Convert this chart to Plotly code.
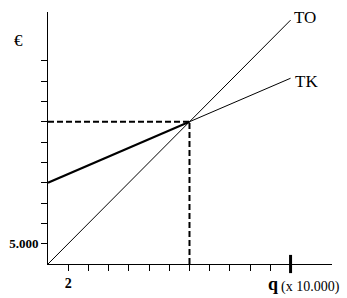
import plotly.graph_objects as go

# Data (q in units of 10.000, values in €)
q_to = [0, 24]
to_vals = [0, 60000]
q_tk = [0, 14, 24]
tk_vals = [20000, 35000, 45700]
eq_q = 14
eq_v = 35000
x_ticks = [2, 4, 6, 8, 10, 12, 14, 16, 18, 20, 22, 24]
x_ticktext = ["2"] + [""] * 11
y_ticks = [5000, 10000, 15000, 20000, 25000, 30000, 35000, 40000, 45000, 50000]
y_ticktext = ["5.000"] + [""] * 9

FONT = "Liberation Serif"
L, R, T, B = 48, 15, 12, 34
W, H = 347, 298
pw, ph = W - L - R, H - T - B

def px(x):
    return (x - L) / pw

def py(y):
    return (H - B - y) / ph

fig = go.Figure()
# dashed guides
fig.add_trace(go.Scatter(x=[0, eq_q], y=[eq_v, eq_v], mode="lines",
                         line=dict(color="black", width=2, dash="6px,3px")))
fig.add_trace(go.Scatter(x=[eq_q, eq_q], y=[0, eq_v], mode="lines",
                         line=dict(color="black", width=2, dash="6px,3px")))
# TO
fig.add_trace(go.Scatter(x=q_to, y=to_vals, mode="lines",
                         line=dict(color="black", width=1)))
# TK (thicker first segment)
fig.add_trace(go.Scatter(x=q_tk[:2], y=tk_vals[:2], mode="lines",
                         line=dict(color="black", width=2)))
fig.add_trace(go.Scatter(x=q_tk[1:], y=tk_vals[1:], mode="lines",
                         line=dict(color="black", width=1)))
# thick tick at q = 24
fig.add_trace(go.Scatter(x=[x_ticks[-1]], y=[0], mode="markers", cliponaxis=False,
                         marker=dict(symbol="line-ns-open", size=13, color="black",
                                     line=dict(color="black", width=3))))

fig.update_layout(
    width=W, height=H, margin=dict(l=L, r=R, t=T, b=B, pad=0),
    paper_bgcolor="white", plot_bgcolor="white", showlegend=False,
    font=dict(family=FONT, color="black"),
    xaxis=dict(range=[0, 28.1], showgrid=False, zeroline=False, showline=True,
               automargin=False,
               linecolor="black", linewidth=1, ticks="outside", ticklen=6,
               tickcolor="black", tickwidth=1, tickvals=x_ticks, ticktext=x_ticktext,
               tickfont=dict(family=FONT, size=14, weight="bold", color="black")),
    yaxis=dict(range=[0, 62000], showgrid=False, zeroline=False, showline=True,
               automargin=False,
               linecolor="black", linewidth=1, ticks="outside", ticklen=6,
               tickcolor="black", tickwidth=1, tickvals=y_ticks, ticktext=y_ticktext,
               tickfont=dict(family=FONT, size=13, weight="bold", color="black")),
    annotations=[
        dict(text="€", xref="paper", yref="paper", x=px(18.5), y=py(40),
             xanchor="center", yanchor="middle", showarrow=False,
             font=dict(family=FONT, size=17)),
        dict(text="TO", xref="paper", yref="paper", x=px(292), y=py(17.5),
             xanchor="left", yanchor="middle", showarrow=False,
             font=dict(family=FONT, size=17)),
        dict(text="TK", xref="paper", yref="paper", x=px(293), y=py(81.5),
             xanchor="left", yanchor="middle", showarrow=False,
             font=dict(family=FONT, size=17)),
        dict(text="q", xref="paper", yref="paper", x=px(266), y=py(284),
             xanchor="left", yanchor="middle", showarrow=False,
             font=dict(family=FONT, size=18, weight="bold")),
        dict(text="(x 10.000)", xref="paper", yref="paper", x=px(279), y=py(286.5),
             xanchor="left", yanchor="middle", showarrow=False,
             font=dict(family=FONT, size=14)),
    ],
)

fig.write_html("out.html")
